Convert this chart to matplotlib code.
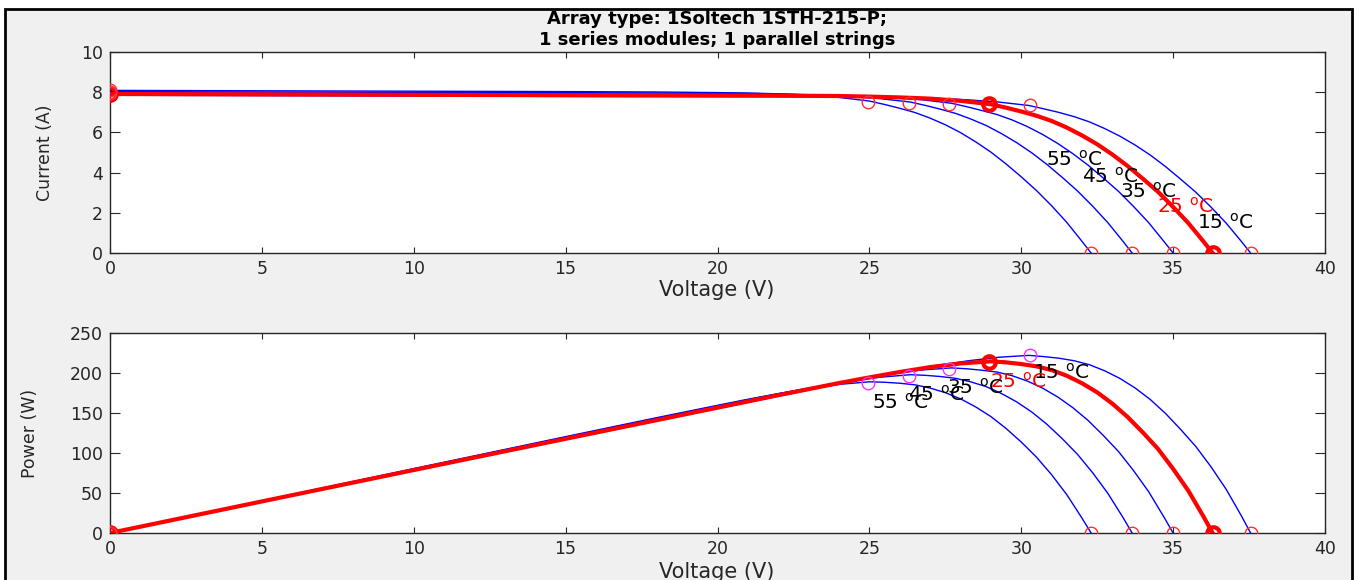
import matplotlib
matplotlib.use('Agg')
from matplotlib import pyplot as plt
from matplotlib.patches import Rectangle
import numpy as np

# temperatures (deg C), curve data
temps = [15, 25, 35, 45, 55]

v_15 = [37.55, 37.25, 36.75, 36.25, 35.75, 35.25, 34.75, 34.25, 33.75, 33.25, 32.75, 32.25, 31.75,
        31.25, 30.75, 30.25, 29.25, 28.25, 27.25, 26.25, 25.25, 23.25, 15, 10, 5, 0]
i_15 = [0, 0.57, 1.48, 2.28, 3.02, 3.67, 4.30, 4.87, 5.37, 5.81, 6.19, 6.52, 6.78,
        6.99, 7.17, 7.34, 7.51, 7.62, 7.69, 7.72, 7.75, 7.77, 7.79, 7.81, 7.83, 7.85]

v_25 = [36.3, 36.0, 35.5, 35.0, 34.5, 34.0, 33.5, 33.0, 32.5, 32.0, 31.5, 31.0, 30.5,
        30.0, 29.5, 29.0, 28.0, 27.0, 26.0, 25.0, 24.0, 22.0, 15, 10, 5, 0]
i_25 = [0, 0.57, 1.49, 2.29, 3.05, 3.70, 4.33, 4.90, 5.41, 5.85, 6.24, 6.57, 6.83,
        7.04, 7.23, 7.40, 7.57, 7.68, 7.74, 7.78, 7.81, 7.83, 7.85, 7.87, 7.89, 7.91]

v_35 = [35.0, 34.7, 34.2, 33.7, 33.2, 32.7, 32.2, 31.7, 31.2, 30.7, 30.2, 29.7, 29.2,
        28.7, 28.2, 27.7, 26.7, 25.7, 24.7, 23.7, 22.7, 20.7, 15, 10, 5, 0]
i_35 = [0, 0.57, 1.50, 2.31, 3.07, 3.73, 4.37, 4.94, 5.45, 5.90, 6.29, 6.62, 6.89,
        7.09, 7.28, 7.45, 7.63, 7.74, 7.80, 7.84, 7.87, 7.89, 7.91, 7.93, 7.95, 7.97]

v_45 = [33.65, 33.35, 32.85, 32.35, 31.85, 31.35, 30.85, 30.35, 29.85, 29.35, 28.85, 28.35, 27.85,
        27.35, 26.85, 26.35, 25.35, 24.35, 23.35, 22.35, 21.35, 19.35, 15, 10, 5, 0]
i_45 = [0, 0.58, 1.51, 2.33, 3.09, 3.76, 4.40, 4.98, 5.49, 5.94, 6.34, 6.66, 6.94,
        7.15, 7.34, 7.51, 7.68, 7.80, 7.86, 7.90, 7.93, 7.95, 7.98, 7.99, 8.01, 8.03]

v_55 = [32.3, 32.0, 31.5, 31.0, 30.5, 30.0, 29.5, 29.0, 28.5, 28.0, 27.5, 27.0, 26.5,
        26.0, 25.5, 25.0, 24.0, 23.0, 22.0, 21.0, 20.0, 18.0, 15, 10, 5, 0]
i_55 = [0, 0.58, 1.52, 2.35, 3.11, 3.79, 4.43, 5.02, 5.53, 5.99, 6.38, 6.71, 6.99,
        7.20, 7.39, 7.56, 7.74, 7.86, 7.92, 7.96, 7.98, 8.01, 8.03, 8.05, 8.07, 8.09]

# maximum power points, open circuit voltages, short circuit currents
v_mp = [30.3, 28.95, 27.63, 26.3, 24.95]
i_mp = [7.34, 7.40, 7.41, 7.45, 7.50]
v_oc = [37.55, 36.3, 35.0, 33.65, 32.3]
i_sc = [7.85, 7.91, 7.97, 8.03, 8.09]

# label anchor points
lab_iv_v = [35.8, 34.47, 33.25, 32.0, 30.8]
lab_iv_i = [1.49, 2.29, 3.05, 3.8, 4.63]
lab_pv_v = [30.39, 28.97, 27.56, 26.27, 25.09]
lab_pv_p = [200, 189, 181, 172.5, 162.5]

curves = [(v_15, i_15), (v_25, i_25), (v_35, i_35), (v_45, i_45), (v_55, i_55)]

W, H = 1359, 580
fig = plt.figure(figsize=(W / 100, H / 100), dpi=100)
fig.patch.set_facecolor('white')
fig.add_artist(Rectangle((5 / W, -0.05), (1352 - 5) / W, 1 - 9 / H + 0.05, transform=fig.transFigure,
                         facecolor='#f0f0f0', edgecolor='black', linewidth=2, zorder=-10))

ax1 = fig.add_axes([110 / W, 1 - 253 / H, 1215 / W, 201 / H])
ax2 = fig.add_axes([110 / W, 1 - 533 / H, 1215 / W, 200 / H])

dark = '#262626'
for k, (v, i) in enumerate(curves):
    v = np.array(v)
    i = np.array(i)
    p = v * i
    if temps[k] == 25:
        ax1.plot(v, i, color='red', linewidth=3, zorder=4)
        ax2.plot(v, p, color='red', linewidth=3, zorder=4)
        ax1.plot([0, v_mp[k], v_oc[k]], [i_sc[k], i_mp[k], 0], 'o', color='red', mfc='none', ms=9, mew=3, zorder=5)
        ax2.plot([0, v_mp[k], v_oc[k]], [0, v_mp[k] * i_mp[k], 0], 'o', color='red', mfc='none', ms=9, mew=3, zorder=5)
        col = 'red'
    else:
        ax1.plot(v, i, color='blue', linewidth=1, zorder=3)
        ax2.plot(v, p, color='blue', linewidth=1, zorder=3)
        ax1.plot([0, v_mp[k], v_oc[k]], [i_sc[k], i_mp[k], 0], 'o', color='#ff3030', mfc='none', ms=9, mew=1, zorder=5)
        ax2.plot([v_mp[k]], [v_mp[k] * i_mp[k]], 'o', color='#ff30ff', mfc='none', ms=9, mew=1, zorder=5)
        ax2.plot([0, v_oc[k]], [0, 0], 'o', color='#ff3030', mfc='none', ms=9, mew=1, zorder=5)
        col = 'black'
    ax1.text(lab_iv_v[k], lab_iv_i[k], '%d $^\\mathrm{o}$C' % temps[k], color=col, fontsize=14.5, ha='left', va='center', zorder=6)
    ax2.text(lab_pv_v[k], lab_pv_p[k], '%d $^\\mathrm{o}$C' % temps[k], color=col, fontsize=14.5, ha='left', va='center', zorder=6)

ax1.set_xlim(0, 40)
ax1.set_ylim(0, 10)
ax1.set_yticks(range(0, 11, 2))
ax2.set_xlim(0, 40)
ax2.set_ylim(0, 250)
ax2.set_yticks(range(0, 251, 50))
for ax in (ax1, ax2):
    ax.set_xticks(range(0, 41, 5))
    ax.set_facecolor('white')
    ax.tick_params(axis='x', direction='in', length=4.5, top=True, labelsize=12.5, colors=dark, pad=5)
    ax.tick_params(axis='y', direction='in', length=7, right=True, labelsize=12.5, colors=dark, pad=5)
    for s in ax.spines.values():
        s.set_color(dark)
        s.set_linewidth(1)

fig.text(717 / W, 1 - 19 / H, 'Array type: 1Soltech 1STH-215-P;', ha='center', va='center', fontsize=13, fontweight='bold', color='black')
fig.text(717 / W, 1 - 40 / H, '1 series modules; 1 parallel strings', ha='center', va='center', fontsize=13, fontweight='bold', color='black')
fig.text(717 / W, 1 - 290 / H, 'Voltage (V)', ha='center', va='center', fontsize=15, color=dark)
fig.text(717 / W, 1 - 572 / H, 'Voltage (V)', ha='center', va='center', fontsize=15, color=dark)
fig.text(45 / W, 1 - 153 / H, 'Current (A)', rotation=90, ha='center', va='center', fontsize=12.5, color=dark)
fig.text(30 / W, 1 - 433 / H, 'Power (W)', rotation=90, ha='center', va='center', fontsize=12.5, color=dark)

plt.savefig('out.png', dpi=100)
